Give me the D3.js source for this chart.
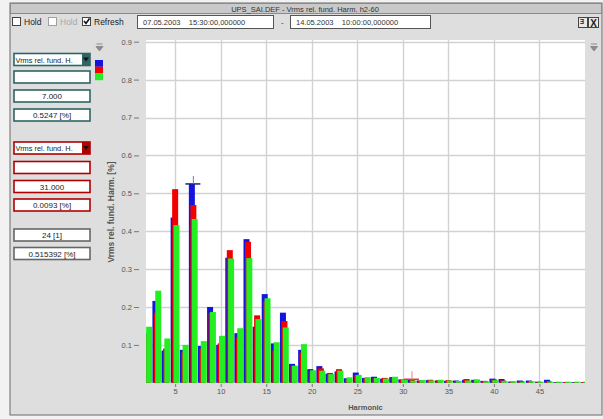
<!DOCTYPE html>
<html>
<head>
<meta charset="utf-8">
<script src="https://cdn.jsdelivr.net/npm/d3@7"></script>
<style>
  body { margin: 0; background: #f2f2f2; }
  svg text { font-family: "Liberation Sans", Arial, sans-serif; }
</style>
</head>
<body>
<script>

// harmonic numbers shown on the x axis
var harmonics = [2, 3, 4, 5, 6, 7, 8, 9, 10, 11, 12, 13, 14, 15, 16, 17, 18, 19, 20, 21, 22, 23, 24, 25, 26,
    27, 28, 29, 30, 31, 32, 33, 34, 35, 36, 37, 38, 39, 40, 41, 42, 43, 44, 45, 46, 47, 48, 49, 50];

// three phases, values in [%]
var blueVals = [0.130, 0.216, 0.085, 0.436, 0.087, 0.5247, 0.097, 0.200, 0.100, 0.330, 0.131, 0.379, 0.148,
    0.234, 0.104, 0.185, 0.050, 0.087, 0.036, 0.044, 0.024, 0.030, 0.012, 0.027, 0.013, 0.016, 0.011,
    0.015, 0.009, 0.008, 0.006, 0.007, 0.006, 0.005, 0.006, 0.008, 0.008, 0.005, 0.011, 0.010, 0.003,
    0.006, 0.006, 0.003, 0.008, 0.002, 0.002, 0.002, 0.002];
var redVals = [0.120, 0.185, 0.090, 0.511, 0.080, 0.469, 0.090, 0.184, 0.104, 0.350, 0.120, 0.372, 0.178,
    0.215, 0.085, 0.163, 0.045, 0.080, 0.030, 0.038, 0.026, 0.036, 0.010, 0.020, 0.012, 0.012, 0.013,
    0.012, 0.008, 0.0093, 0.006, 0.008, 0.007, 0.007, 0.004, 0.010, 0.007, 0.005, 0.009, 0.006, 0.003,
    0.004, 0.003, 0.002, 0.004, 0.002, 0.002, 0.002, 0.002];
var greenVals = [0.148, 0.243, 0.117, 0.416, 0.100, 0.432, 0.110, 0.187, 0.124, 0.328, 0.144, 0.329, 0.168,
    0.223, 0.107, 0.146, 0.045, 0.102, 0.033, 0.032, 0.023, 0.032, 0.0145, 0.021, 0.015, 0.013, 0.011,
    0.016, 0.009, 0.006, 0.007, 0.006, 0.008, 0.006, 0.005, 0.006, 0.009, 0.004, 0.007, 0.005, 0.004,
    0.003, 0.004, 0.003, 0.003, 0.003, 0.003, 0.003, 0.003];

var yTicks = [0.1, 0.2, 0.3, 0.4, 0.5, 0.6, 0.7, 0.8, 0.9];
var xTicks = [5, 10, 15, 20, 25, 30, 35, 40, 45];

// cursors: harmonic of the blue and red cursor
var cursorBlue = 7, cursorRed = 31;

var width = 603,
    height = 419,
    plotL = 146, plotR = 585, plotT = 40, plotB = 383,
    blue = "#1414dc", red = "#f20000", green = "#22ee22",
    teal = "#2e6464", darkRed = "#b00000"
;

var svg = d3.select("body").append("svg")
    .attr("width", width)
    .attr("height", height);

// window frame
svg.append("rect")
    .attr("x", 10).attr("y", 3)
    .attr("width", 592).attr("height", 412)
    .attr("fill", "#dedede")
    .attr("stroke", "#6a6a6a");

// title bar
svg.append("rect")
    .attr("x", 10.5).attr("y", 3.5)
    .attr("width", 591).attr("height", 10)
    .attr("fill", "#c9c9c9")
    .attr("stroke", "#8a8a8a");
svg.append("text")
    .attr("x", 305).attr("y", 11.5)
    .attr("text-anchor", "middle")
    .attr("font-size", 7.5)
    .attr("fill", "#333")
    .text("UPS_SAI.DEF - Vrms rel. fund. Harm. h2-60");

// toolbar: checkboxes
function checkbox(x, label, checked, grey) {
    svg.append("rect")
        .attr("x", x + 0.5).attr("y", 17.5)
        .attr("width", 8).attr("height", 8)
        .attr("fill", "#fff")
        .attr("stroke", grey ? "#a0a0a0" : "#444");
    if (checked) {
        svg.append("path")
            .attr("d", "M" + (x + 2) + ",21 l2,2.5 l3.5,-5")
            .attr("fill", "none")
            .attr("stroke", "#111")
            .attr("stroke-width", 1.6);
    }
    svg.append("text")
        .attr("x", x + 12).attr("y", 25)
        .attr("font-size", 8.5)
        .attr("fill", grey ? "#a8a8a8" : "#222")
        .text(label);
}
checkbox(12, "Hold", false, false);
checkbox(48, "Hold", false, true);
checkbox(82, "Refresh", true, false);

// date fields
function field(x, w, txt) {
    svg.append("rect")
        .attr("x", x + 0.5).attr("y", 15.5)
        .attr("width", w).attr("height", 13)
        .attr("fill", "#fff")
        .attr("stroke", "#555");
    svg.append("text")
        .attr("x", x + 6).attr("y", 25)
        .attr("font-size", 7.5)
        .attr("fill", "#333")
        .attr("xml:space", "preserve")
        .text(txt);
}
field(137, 136, "07.05.2003    15:30:00,000000");
svg.append("text").attr("x", 281).attr("y", 25).attr("font-size", 8).attr("fill", "#333").text("-");
field(290, 140, "14.05.2003    10:00:00,000000");

// right-top icons
svg.append("rect").attr("x", 578.5).attr("y", 17.5).attr("width", 9).attr("height", 10)
    .attr("fill", "#e8e8e8").attr("stroke", "#444");
svg.append("text").attr("x", 580).attr("y", 26).attr("font-size", 9).attr("font-weight", "bold")
    .attr("fill", "#222").text("ᴲ");
svg.append("rect").attr("x", 588.5).attr("y", 17.5).attr("width", 10).attr("height", 10)
    .attr("fill", "#e8e8e8").attr("stroke", "#444");
svg.append("text").attr("x", 593.5).attr("y", 26.5).attr("text-anchor", "middle").attr("font-size", 10)
    .attr("font-weight", "bold").attr("fill", "#222").text("X");

// small drop icons
function dropIcon(x, y) {
    svg.append("path")
        .attr("d", "M" + (x - 3) + "," + y + " h6 M" + (x - 3.5) + "," + (y + 2.5) + " h7 l-3.5,4.5 z")
        .attr("fill", "#8c8c8c")
        .attr("stroke", "#8c8c8c")
        .attr("stroke-width", 1);
}
dropIcon(99.5, 44);
dropIcon(594, 44);

// left panel boxes
function box(y, color, txt, arrow) {
    svg.append("rect")
        .attr("x", 14).attr("y", y)
        .attr("width", 76).attr("height", 12)
        .attr("fill", "#fff")
        .attr("stroke", color)
        .attr("stroke-width", 1.6);
    if (arrow) {
        svg.append("rect")
            .attr("x", 82).attr("y", y)
            .attr("width", 8).attr("height", 12)
            .attr("fill", color);
        svg.append("path")
            .attr("d", "M" + 83 + "," + (y + 4) + " h6 l-3,4 z")
            .attr("fill", "#111");
        svg.append("text")
            .attr("x", 15.5).attr("y", y + 9)
            .attr("font-size", 7.4)
            .attr("fill", "#222")
            .text(txt);
    } else {
        svg.append("text")
            .attr("x", 52).attr("y", y + 9)
            .attr("text-anchor", "middle")
            .attr("font-size", 8)
            .attr("fill", "#222")
            .text(txt);
    }
}
var fmt3 = d3.format(".3f"), fmt4 = d3.format(".4f");
box(53.5, teal, "Vrms rel. fund. H.", true);
box(71, teal, "", false);
box(90, teal, fmt3(cursorBlue), false);
box(109, teal, fmt4(blueVals[harmonics.indexOf(cursorBlue)]) + " [%]", false);
box(142, darkRed, "Vrms rel. fund. H.", true);
box(161.5, darkRed, "", false);
box(180.5, darkRed, fmt3(cursorRed), false);
box(199, darkRed, fmt4(redVals[harmonics.indexOf(cursorRed)]) + " [%]", false);
box(229, "#666", "24 [1]", false);
box(247.5, "#666", "0.515392 [%]", false);

// phase swatch
[blue, red, green].forEach(function(c, i) {
    svg.append("rect")
        .attr("x", 95).attr("y", 60 + i * 6.7)
        .attr("width", 8).attr("height", 6.8)
        .attr("fill", c);
});

// scales
var xScale = d3.scaleLinear().domain([1.8, 50]).range([plotL, plotR]);
var yScale = d3.scaleLinear().domain([0, 0.9]).range([382.8, 41.7]);

// plot background
svg.append("rect")
    .attr("x", plotL).attr("y", plotT)
    .attr("width", plotR - plotL).attr("height", plotB - plotT)
    .attr("fill", "#fff");

svg.append("clipPath").attr("id", "clip")
    .append("rect")
    .attr("x", plotL).attr("y", plotT)
    .attr("width", plotR - plotL).attr("height", plotB - plotT);

// grid
svg.append("g").selectAll("line")
    .data(yTicks).enter().append("line")
    .attr("x1", plotL).attr("x2", plotR)
    .attr("y1", function(d) { return Math.round(yScale(d)) + 0.5; })
    .attr("y2", function(d) { return Math.round(yScale(d)) + 0.5; })
    .attr("stroke", "#d2d2d2").attr("stroke-width", 1.4);
svg.append("g").selectAll("line")
    .data(xTicks).enter().append("line")
    .attr("y1", plotT).attr("y2", plotB)
    .attr("x1", function(d) { return Math.round(xScale(d)) + 0.5; })
    .attr("x2", function(d) { return Math.round(xScale(d)) + 0.5; })
    .attr("stroke", "#d2d2d2").attr("stroke-width", 1.4);

// bars: blue, red, green drawn with small offsets, green on top
var bars = svg.append("g").attr("clip-path", "url(#clip)");
var series = [
    { vals: blueVals, color: blue, off: -0.165 },
    { vals: redVals, color: red, off: 0 },
    { vals: greenVals, color: green, off: 0.145 }
];
series.forEach(function(s) {
    bars.selectAll(null)
        .data(harmonics).enter().append("rect")
        .attr("x", function(d) { return xScale(d + s.off - 0.33); })
        .attr("width", xScale(0.66) - xScale(0))
        .attr("y", function(d, i) { return yScale(s.vals[i]); })
        .attr("height", function(d, i) { return yScale(0) - yScale(s.vals[i]); })
        .attr("fill", s.color);
});

// cursors
function cursor(h, v, c, c2) {
    var cx = xScale(h), cy = yScale(v);
    svg.append("line")
        .attr("x1", cx - 8).attr("x2", cx + 7)
        .attr("y1", cy).attr("y2", cy)
        .attr("stroke", c).attr("stroke-width", 1.5);
    svg.append("line")
        .attr("x1", cx).attr("x2", cx)
        .attr("y1", cy - 8).attr("y2", cy)
        .attr("stroke", c2).attr("stroke-width", 1);
}
cursor(cursorBlue, blueVals[harmonics.indexOf(cursorBlue)], "#20208a", "#7878b0");
cursor(cursorRed, redVals[harmonics.indexOf(cursorRed)], "#d04040", "#e08080");

// axes
var yAxis = svg.append("g")
    .attr("transform", "translate(139,0)")
    .call(d3.axisLeft(yScale).tickValues(yTicks).tickSize(5).tickPadding(2).tickFormat(d3.format(".1f")));
yAxis.select(".domain").remove();
yAxis.selectAll("line").attr("stroke", "#777");
yAxis.selectAll("text").attr("font-size", 7.5).attr("fill", "#555")
    .style("font-family", "'Liberation Sans', Arial, sans-serif");

var xAxis = svg.append("g")
    .attr("transform", "translate(0,384)")
    .call(d3.axisBottom(xScale).tickValues(xTicks).tickSize(3).tickPadding(2));
xAxis.select(".domain").remove();
xAxis.selectAll("line").attr("stroke", "#777");
xAxis.selectAll("text").attr("font-size", 7.5).attr("fill", "#555")
    .style("font-family", "'Liberation Sans', Arial, sans-serif");

// axis titles
svg.append("text")
    .attr("x", (plotL + plotR) / 2).attr("y", 410)
    .attr("text-anchor", "middle")
    .attr("font-size", 7.5)
    .attr("font-weight", "bold")
    .attr("fill", "#555")
    .text("Harmonic");

svg.append("text")
    .attr("transform", "translate(114,212) rotate(-90)")
    .attr("text-anchor", "middle")
    .attr("font-size", 8.5)
    .attr("font-weight", "bold")
    .attr("fill", "#555")
    .text("Vrms rel. fund. Harm. [%]");

</script>
</body>
</html>
